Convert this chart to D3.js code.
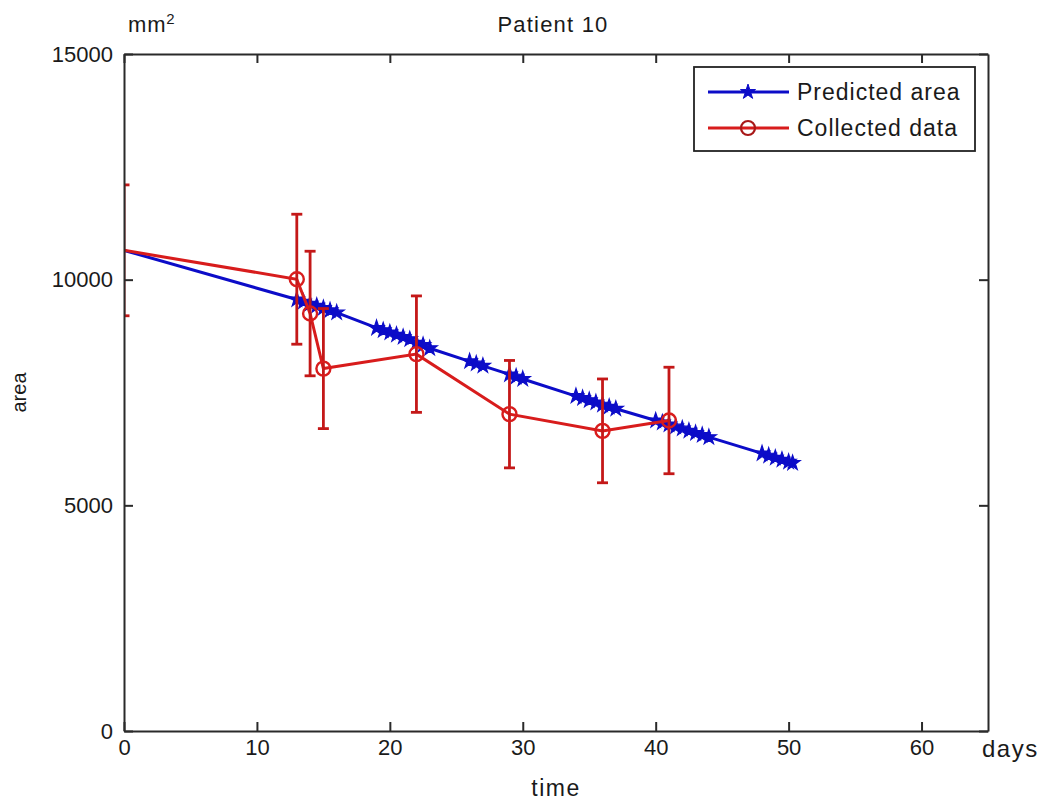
<!DOCTYPE html>
<html>
<head>
<meta charset="utf-8">
<script src="https://cdn.jsdelivr.net/npm/d3@7"></script>
<style>
  body { margin: 0; background: #fff; }
  text { font-family: "Liberation Sans", Arial, sans-serif; fill: #1a1a1a; }
</style>
</head>
<body>
<div id="chart"></div>
<script>
// predicted area (blue, star markers)
var predDays = [0, 13, 13.5, 14, 14.5, 15, 15.5, 16, 19, 19.5, 20, 20.5, 21, 21.5, 22, 22.5, 23,
  26, 26.5, 27, 29, 29.5, 30, 34, 34.5, 35, 35.5, 36, 36.5, 37,
  40, 40.5, 41, 41.5, 42, 42.5, 43, 43.5, 44, 48, 48.5, 49, 49.5, 50, 50.3];
var predArea = [10650, 9560, 9510, 9465, 9420, 9370, 9320, 9270, 8930, 8880, 8830, 8780, 8730, 8680, 8600, 8550, 8480,
  8190, 8140, 8090, 7900, 7850, 7800, 7420, 7375, 7330, 7280, 7230, 7185, 7140,
  6880, 6835, 6790, 6745, 6700, 6650, 6600, 6555, 6510, 6150, 6100, 6055, 6010, 5965, 5938];

// collected data (red, circles + error bars)
var dataDays = [0, 13, 14, 15, 22, 29, 36, 41];
var dataArea = [10650, 10010, 9250, 8030, 8350, 7020, 6650, 6880];
var dataErr  = [1450, 1440, 1380, 1330, 1290, 1190, 1150, 1180];

var xTicks = [0, 10, 20, 30, 40, 50, 60];
var yTicks = [0, 5000, 10000, 15000];

var W = 1041, H = 803;
var pLeft = 124, pRight = 988, pTop = 54, pBottom = 731;

var svg = d3.select("#chart").append("svg")
  .attr("width", W)
  .attr("height", H);

var x = d3.scaleLinear().domain([0, 65]).range([pLeft, pRight]);
var y = d3.scaleLinear().domain([0, 15000]).range([pBottom, pTop]);

svg.append("clipPath").attr("id", "plot-clip")
  .append("rect")
  .attr("x", pLeft).attr("y", pTop)
  .attr("width", pRight - pLeft).attr("height", pBottom - pTop);

var plot = svg.append("g").attr("clip-path", "url(#plot-clip)");

var blue = "#0c0cc8", red = "#d81c1c";

// predicted line
var line = d3.line().x(d => x(d[0])).y(d => y(d[1]));
var pred = predDays.map((d, i) => [d, predArea[i]]);
plot.append("path")
  .datum(pred)
  .attr("d", line)
  .attr("fill", "none")
  .attr("stroke", blue)
  .attr("stroke-width", 3);

var star = d3.symbol().type(d3.symbolStar).size(70);
plot.selectAll(".star")
  .data(pred.slice(1))
  .enter()
  .append("path")
  .attr("class", "star")
  .attr("d", star)
  .attr("transform", d => "translate(" + x(d[0]) + "," + y(d[1]) + ")")
  .attr("fill", blue)
  .attr("stroke", blue)
  .attr("stroke-width", 1.2);

// collected data
var coll = dataDays.map((d, i) => ({ day: d, area: dataArea[i], err: dataErr[i] }));

plot.append("path")
  .datum(coll.map(d => [d.day, d.area]))
  .attr("d", line)
  .attr("fill", "none")
  .attr("stroke", red)
  .attr("stroke-width", 3);

// error bars
var cap = 5.5;
var bars = plot.selectAll(".err")
  .data(coll)
  .enter()
  .append("g")
  .attr("class", "err")
  .attr("stroke", "#c41818")
  .attr("stroke-width", 2.8);

bars.append("line")
  .attr("x1", d => x(d.day)).attr("x2", d => x(d.day))
  .attr("y1", d => y(d.area + d.err)).attr("y2", d => y(d.area - d.err));
bars.append("line")
  .attr("x1", d => x(d.day) - cap).attr("x2", d => x(d.day) + cap)
  .attr("y1", d => y(d.area + d.err)).attr("y2", d => y(d.area + d.err));
bars.append("line")
  .attr("x1", d => x(d.day) - cap).attr("x2", d => x(d.day) + cap)
  .attr("y1", d => y(d.area - d.err)).attr("y2", d => y(d.area - d.err));

plot.selectAll(".dot")
  .data(coll.filter(d => d.day > 0))
  .enter()
  .append("circle")
  .attr("class", "dot")
  .attr("cx", d => x(d.day))
  .attr("cy", d => y(d.area))
  .attr("r", 7)
  .attr("fill", "none")
  .attr("stroke", red)
  .attr("stroke-width", 2.4);

// axes (ticks pointing inward, like matlab)
var axisColor = "#2a2a2a";
function styleAxis(g) {
  g.selectAll("path, line").attr("stroke", axisColor).attr("stroke-width", 2);
  g.selectAll("text")
    .style("font-family", '"Liberation Sans", Arial, sans-serif')
    .style("font-size", "22px")
    .attr("fill", "#1a1a1a");
}

svg.append("g")
  .attr("transform", "translate(0," + pBottom + ")")
  .call(d3.axisBottom(x).tickValues(xTicks).tickSizeInner(-9).tickSizeOuter(0).tickPadding(8))
  .call(styleAxis);

svg.append("g")
  .attr("transform", "translate(0," + pTop + ")")
  .call(d3.axisTop(x).tickValues(xTicks).tickSizeInner(-9).tickSizeOuter(0).tickFormat(""))
  .call(styleAxis);

svg.append("g")
  .attr("transform", "translate(" + pLeft + ",0)")
  .call(d3.axisLeft(y).tickValues(yTicks).tickFormat(d3.format("d"))
    .tickSizeInner(-9).tickSizeOuter(0).tickPadding(11))
  .call(styleAxis);

svg.append("g")
  .attr("transform", "translate(" + pRight + ",0)")
  .call(d3.axisRight(y).tickValues(yTicks).tickSizeInner(-9).tickSizeOuter(0).tickFormat(""))
  .call(styleAxis);

// labels
svg.append("text")
  .attr("x", 553)
  .attr("y", 32)
  .attr("text-anchor", "middle")
  .style("font-size", "22px")
  .style("letter-spacing", "1.2px")
  .text("Patient 10");

var mm = svg.append("text")
  .attr("x", 128)
  .attr("y", 32)
  .style("font-size", "22px")
  .style("letter-spacing", "0.8px");
mm.append("tspan").text("mm");
mm.append("tspan").attr("dy", -8).style("font-size", "15px").text("2");

svg.append("text")
  .attr("x", 982)
  .attr("y", 757)
  .style("font-size", "24px")
  .style("letter-spacing", "1.5px")
  .text("days");

svg.append("text")
  .attr("x", 556)
  .attr("y", 796)
  .attr("text-anchor", "middle")
  .style("font-size", "23px")
  .style("letter-spacing", "1.5px")
  .text("time");

svg.append("text")
  .attr("transform", "translate(26," + (pTop + pBottom) / 2 + ") rotate(-90)")
  .attr("text-anchor", "middle")
  .style("font-size", "20px")
  .text("area");

// legend
var legend = svg.append("g");
legend.append("rect")
  .attr("x", 694).attr("y", 67)
  .attr("width", 281).attr("height", 84)
  .attr("fill", "#fff")
  .attr("stroke", "#222")
  .attr("stroke-width", 1.8);

var legendItems = [
  { label: "Predicted area", color: blue, mark: "star" },
  { label: "Collected data", color: red, mark: "circle" }
];
legendItems.forEach(function(item, i) {
  var ly = 92 + i * 36;
  legend.append("line")
    .attr("x1", 708).attr("x2", 789)
    .attr("y1", ly).attr("y2", ly)
    .attr("stroke", item.color)
    .attr("stroke-width", 3);
  if (item.mark === "star") {
    legend.append("path")
      .attr("d", star)
      .attr("transform", "translate(748," + ly + ")")
      .attr("fill", item.color)
      .attr("stroke", item.color);
  } else {
    legend.append("circle")
      .attr("cx", 748).attr("cy", ly).attr("r", 7)
      .attr("fill", "none")
      .attr("stroke", "#a81818")
      .attr("stroke-width", 2.2);
  }
  legend.append("text")
    .attr("x", 797)
    .attr("y", ly + 8)
    .style("font-size", "23px")
    .style("letter-spacing", "1px")
    .text(item.label);
});
</script>
</body>
</html>
